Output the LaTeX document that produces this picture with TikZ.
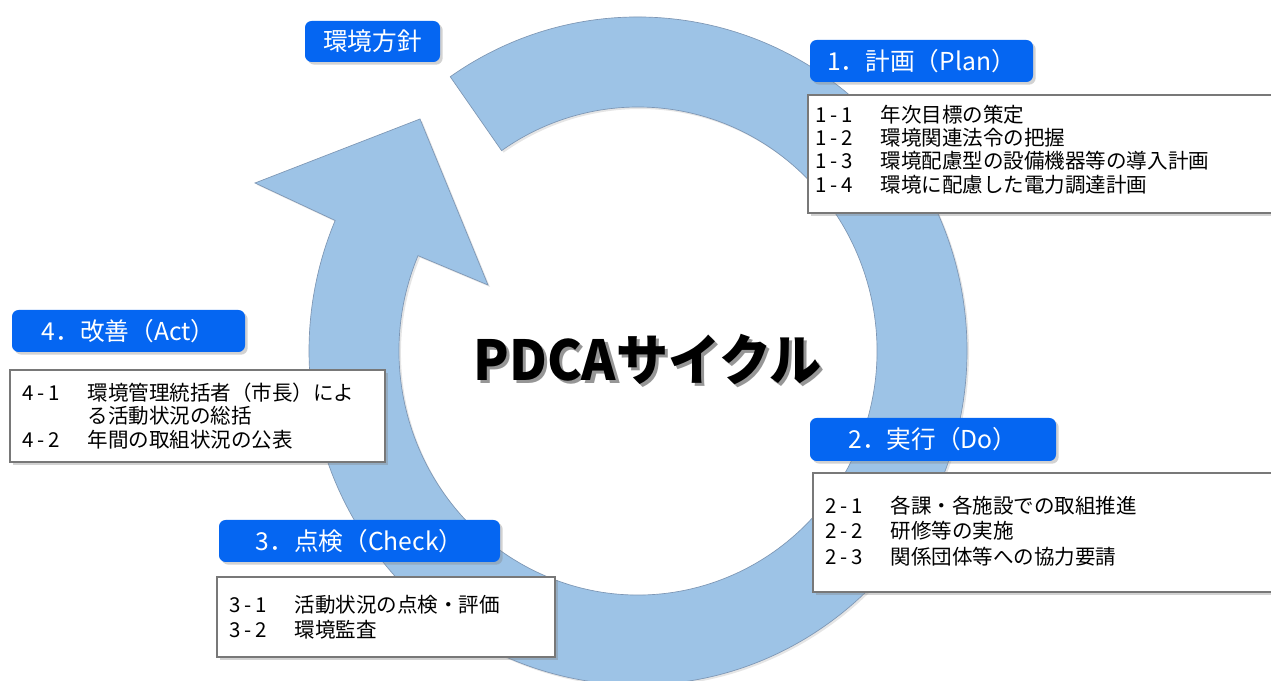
\documentclass[tikz,border=0pt]{standalone}
\usepackage{fontspec}
\newfontfamily\jp{Noto Sans CJK JP}
\usetikzlibrary{shadows,calc}
\definecolor{ringfill}{RGB}{157,195,230}
\definecolor{ringline}{RGB}{125,150,180}
\definecolor{labelblue}{RGB}{5,102,242}
\definecolor{boxline}{RGB}{120,120,120}
\definecolor{titleshade}{RGB}{150,150,150}
\tikzset{
  lblbox/.style={rounded corners=5pt, fill=labelblue, draw=none, text=white,
    font=\jp\fontsize{18.5pt}{20pt}\selectfont, inner sep=0pt,
    drop shadow={shadow xshift=2pt, shadow yshift=-2pt, opacity=0.35}},
  itembox/.style={fill=white, draw=boxline, line width=0.8pt, inner sep=0pt,
    drop shadow={shadow xshift=2.5pt, shadow yshift=-2.5pt, opacity=0.35}},
  itemline/.style={anchor=west, inner sep=0pt, text=black,
    font=\jp\fontsize{15.4pt}{17.6pt}\selectfont, text height=0.88em, text depth=0.12em},
  ringshape/.style={fill=ringfill, draw=ringline, line width=0.5pt,
    drop shadow={shadow xshift=1.5pt, shadow yshift=-1.5pt, opacity=0.2}},
  titlestyle/.style={inner sep=0pt, text=black, font=\jp\bfseries\fontsize{39pt}{41pt}\selectfont}
}
\newcommand{\itm}[3]{\makebox[49pt][l]{#1\hspace{3pt}-\hspace{3pt}#2}#3}
\newcommand{\itmcont}[1]{\makebox[49pt][l]{}#1}
\newcommand{\shadowtext}[1]{\makebox[0pt][l]{\hspace{2.4pt}\raisebox{-2.4pt}{\color{titleshade}#1}}#1}
\begin{document}
\begin{tikzpicture}[x=0.75pt,y=0.75pt]
\useasboundingbox (0,0) rectangle (1271,681);
\fill[white] (0,0) rectangle (1271,681);
% ring arrow
\coordinate (C) at (638,330);
\coordinate (wingL) at (255,498);
\coordinate (tip) at (420,562);
\coordinate (wingR) at (488,396);
\path[ringshape] ($(C)+(124.8:329 and 334)$)
  arc[start angle=124.8, end angle=-203, x radius=329, y radius=334]
  -- (wingL) -- (tip) -- (wingR) -- ($(C)+(-203:239 and 244)$)
  arc[start angle=-203, end angle=124.8, x radius=239, y radius=244] -- cycle;
% centre title
\node[titlestyle] (title) at (647.5,320) {\scalebox{1}[1.06]{\shadowtext{PDCAサイクル}}};
% labels
\node[lblbox, minimum width=101.25pt, minimum height=30.75pt] (policy) at (372.5,639.5) {環境方針};
\node[lblbox, minimum width=167.25pt, minimum height=31.5pt] (plan) at (921.5,620) {1．計画（Plan）};
\node[lblbox, minimum width=174.75pt, minimum height=31.5pt] (act) at (128.5,350) {4．改善（Act）};
\node[lblbox, minimum width=184.5pt, minimum height=32.25pt] (do) at (933,241.5) {2．実行（Do）};
\node[lblbox, minimum width=210.75pt, minimum height=31.5pt] (check) at (359.5,140) {3．点検（Check）};
% item boxes
\node[itembox, minimum width=350.25pt, minimum height=88.5pt] (box1) at (1041.5,527) {};
\node[itemline] (p1) at (815,564) {\itm{1}{1}{年次目標の策定}};
\node[itemline] (p2) at (815,541) {\itm{1}{2}{環境関連法令の把握}};
\node[itemline] (p3) at (815,518) {\itm{1}{3}{環境配慮型の設備機器等の導入計画}};
\node[itemline] (p4) at (815,494) {\itm{1}{4}{環境に配慮した電力調達計画}};
\node[itembox, minimum width=281.25pt, minimum height=69pt] (box4) at (197.5,265) {};
\node[itemline] (a1) at (22,286) {\itm{4}{1}{環境管理統括者（市長）によ}};
\node[itemline] (a1b) at (22,263) {\itmcont{る活動状況の総括}};
\node[itemline] (a2) at (22,239) {\itm{4}{2}{年間の取組状況の公表}};
\node[itembox, minimum width=346.5pt, minimum height=89.25pt] (box2) at (1044,148.5) {};
\node[itemline] (d1) at (825,173) {\itm{2}{1}{各課・各施設での取組推進}};
\node[itemline] (d2) at (825,148) {\itm{2}{2}{研修等の実施}};
\node[itemline] (d3) at (825,122) {\itm{2}{3}{関係団体等への協力要請}};
\node[itembox, minimum width=253.5pt, minimum height=60pt] (box3) at (386,64) {};
\node[itemline] (c1) at (229,74) {\itm{3}{1}{活動状況の点検・評価}};
\node[itemline] (c2) at (229,49) {\itm{3}{2}{環境監査}};
\end{tikzpicture}
\end{document}
